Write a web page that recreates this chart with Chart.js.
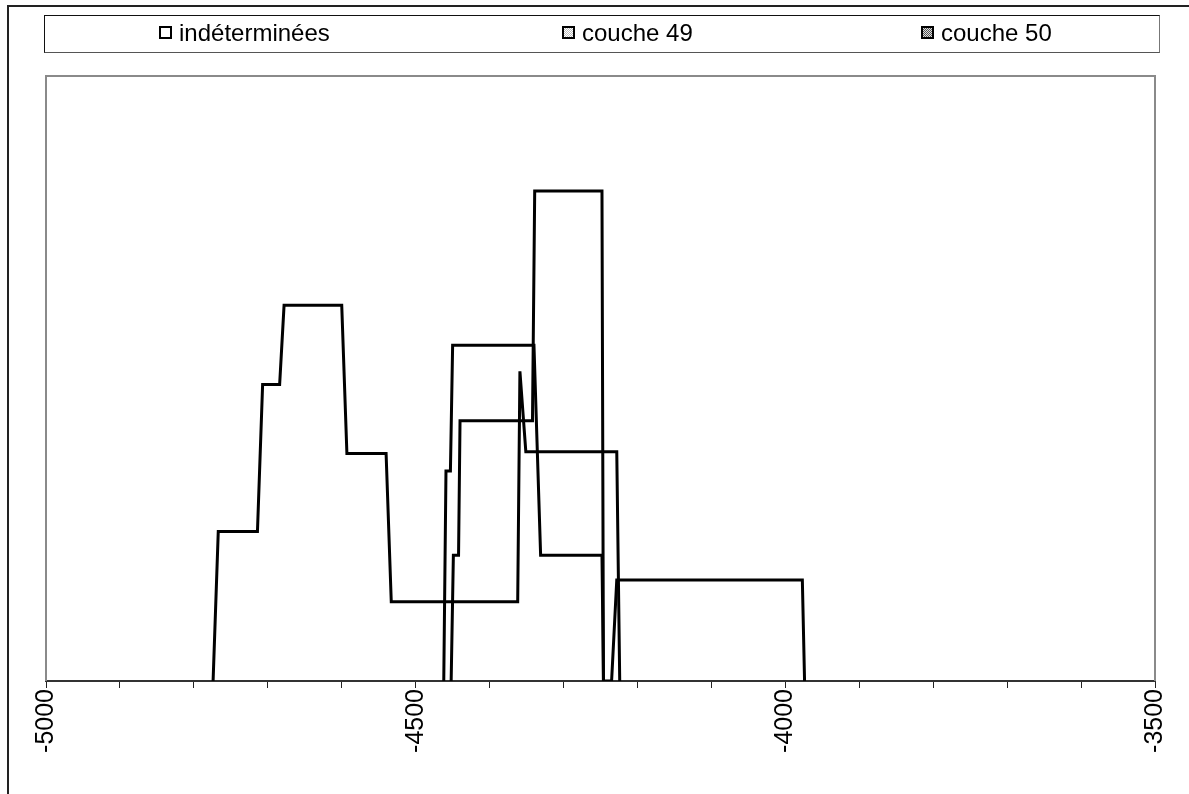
<!DOCTYPE html>
<html>
<head>
<meta charset="utf-8">
<script src="https://cdn.jsdelivr.net/npm/chart.js@4.4.0/dist/chart.umd.min.js"></script>
<style>
  html, body { margin: 0; padding: 0; background: #fff; }
  #wrap { position: relative; width: 1189px; height: 794px; overflow: hidden; }
  #frame { position: absolute; left: 7px; top: 5px; width: 1190px; height: 800px;
           border-top: 2px solid #222; border-left: 2px solid #222; box-sizing: border-box; }
  #legend { position: absolute; left: 44px; top: 15px; width: 1116px; height: 38px;
            border: 1px solid #111; border-right-color: #777; border-bottom-color: #555; box-sizing: border-box;
            font-family: "Liberation Sans", Arial, sans-serif; font-size: 24px; color: #000; }
  .item { position: absolute; top: -1px; height: 36px; line-height: 36px; white-space: nowrap; }
  .sw { display: inline-block; width: 9px; height: 9px; border: 2px solid #000; vertical-align: middle;
        margin-right: 7px; position: relative; top: -2px; }
  .sw1 { background: #fff; }
  .sw2 { background: repeating-conic-gradient(#bbb 0% 25%, #fff 0% 50%) 0 0 / 2px 2px; }
  .sw3 { background: repeating-conic-gradient(#555 0% 25%, #ddd 0% 50%) 0 0 / 2px 2px; }
  canvas { position: absolute; left: 0; top: 0; }
</style>
</head>
<body>
<div id="wrap">
  <canvas id="c" width="1189" height="794"></canvas>
  <div id="frame"></div>
  <div id="legend"></div>
</div>
<script>
// ---- data ----
const seriesNames = ["indéterminées", "couche 49", "couche 50"];

const xIndet = [-4774, -4767, -4714, -4707, -4684, -4678, -4600, -4593, -4540, -4533, -4362, -4359, -4351, -4228, -4224];
const yIndet = [0, 24.7, 24.7, 49.0, 49.0, 62.1, 62.1, 37.6, 37.6, 13.1, 13.1, 51.2, 37.9, 37.9, 0];

const xC49 = [-4462, -4459, -4453, -4450, -4340, -4331, -4248, -4246];
const yC49 = [0, 34.7, 34.7, 55.5, 55.5, 20.8, 20.8, 0];

const xC50 = [-4452, -4449, -4442, -4440, -4342, -4339, -4248, -4246, -4235, -4228, -3977, -3974];
const yC50 = [0, 20.8, 20.8, 43.0, 43.0, 81.0, 81.0, 0, 0, 16.7, 16.7, 0];

const xMin = -5000, xMax = -3500, xStep = 100, xLabelStep = 500;
const yMin = 0, yMax = 100;

// ---- legend (HTML text) ----
const legendLeft = [114, 517, 876];
const legendEl = document.getElementById('legend');
seriesNames.forEach((n, i) => {
  const d = document.createElement('div');
  d.className = 'item';
  d.style.left = legendLeft[i] + 'px';
  d.innerHTML = '<span class="sw sw' + (i + 1) + '"></span>' + n;
  legendEl.appendChild(d);
});

const toPts = (xs, ys) => xs.map((x, i) => ({ x: x, y: ys[i] }));

const plotFrame = {
  id: 'plotFrame',
  beforeDatasetsDraw(chart) {
    const a = chart.chartArea, ctx = chart.ctx;
    ctx.save();
    ctx.strokeStyle = '#8a8a8a';
    ctx.lineWidth = 2;
    ctx.beginPath();
    ctx.moveTo(a.left, a.bottom);
    ctx.lineTo(a.left, a.top);
    ctx.lineTo(a.right, a.top);
    ctx.lineTo(a.right, a.bottom);
    ctx.stroke();
    ctx.restore();
  }
};

const ds = (label, xs, ys) => ({
  label: label,
  data: toPts(xs, ys),
  showLine: true,
  borderColor: '#000',
  backgroundColor: '#000',
  borderWidth: 3,
  pointRadius: 0,
  tension: 0,
  fill: false
});

new Chart(document.getElementById('c'), {
  type: 'scatter',
  data: {
    datasets: [
      ds(seriesNames[0], xIndet, yIndet),
      ds(seriesNames[1], xC49, yC49),
      ds(seriesNames[2], xC50, yC50)
    ]
  },
  options: {
    responsive: false,
    animation: false,
    layout: { padding: { left: 46, right: 34, top: 76, bottom: 0 } },
    plugins: { legend: { display: false }, tooltip: { enabled: false } },
    scales: {
      x: {
        type: 'linear',
        min: xMin, max: xMax,
        afterFit: (s) => { s.height = 113; },
        ticks: {
          stepSize: xStep,
          autoSkip: false,
          minRotation: 90, maxRotation: 90,
          padding: 1,
          color: '#000',
          font: { family: '"Liberation Sans", Arial, sans-serif', size: 25 },
          callback: (v) => (Math.round(v) % xLabelStep === 0 ? String(Math.round(v)) : '')
        },
        grid: { drawOnChartArea: false, drawTicks: true, tickLength: 7, color: '#222', lineWidth: 1 },
        border: { color: '#333', width: 2 }
      },
      y: { display: false, min: yMin, max: yMax }
    }
  },
  plugins: [plotFrame]
});
</script>
</body>
</html>
